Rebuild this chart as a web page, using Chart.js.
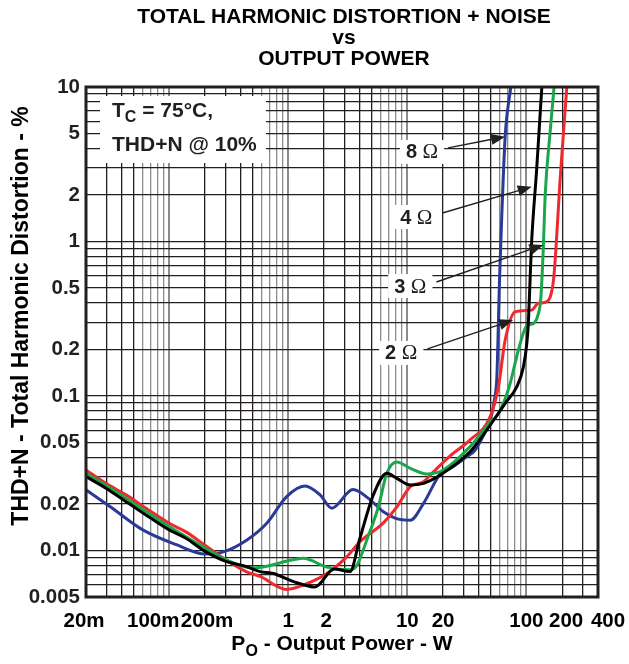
<!DOCTYPE html>
<html>
<head>
<meta charset="utf-8">
<script src="https://cdn.jsdelivr.net/npm/chart.js@4.4.1/dist/chart.umd.min.js"></script>
<style>
  html, body { margin: 0; padding: 0; background: #fff; }
</style>
</head>
<body>
<canvas id="theChart" width="629" height="664"></canvas>
<script>
const FONT = '"Liberation Sans", Arial, Helvetica, sans-serif'

const titleLines = ["TOTAL HARMONIC DISTORTION + NOISE", "vs", "OUTPUT POWER"]
const yTitle = "THD+N - Total Harmonic Distortion - %"
const xTitle = ["P", "O", " - Output Power - W"]
const noteLines = [["T", "C", " = 75°C,"], ["THD+N @ 10%", "", ""]]

const xMin = 0.02, xMax = 400
const yMin = 0.005, yMax = 10
const xTickValues = [0.02, 0.1, 0.2, 1, 2, 10, 20, 100, 200, 400]
const xTickText = ["20m", "100m", "200m", "1", "2", "10", "20", "100", "200", "400"]
const yTickValues = [0.005, 0.01, 0.02, 0.05, 0.1, 0.2, 0.5, 1, 2, 5, 10]

// 8 ohm (blue)
const p8 = [0.02, 0.032, 0.06, 0.115, 0.2, 0.285, 0.45, 0.66, 0.97, 1.38, 1.85, 2.32, 3.5, 4.9, 6.3, 7.9, 10.6, 13.7, 19.5, 22.9, 31.6, 37.2, 47, 51, 54, 56.5, 57.5, 59.5, 62.3, 66.4, 74]
const thd8 = [0.0247, 0.0192, 0.0136, 0.0109, 0.0095, 0.0098, 0.0117, 0.015, 0.0223, 0.0261, 0.0229, 0.0188, 0.0248, 0.0212, 0.0178, 0.0162, 0.0157, 0.0202, 0.0324, 0.034, 0.0405, 0.0447, 0.063, 0.075, 0.095, 0.13, 0.2, 0.56, 1.52, 4.77, 10]

// 4 ohm (black)
const p4 = [0.02, 0.0294, 0.0434, 0.0638, 0.1, 0.138, 0.204, 0.3, 0.442, 0.58, 0.75, 1.04, 1.34, 1.68, 2.43, 3.3, 4.0, 5.19, 6.73, 8.16, 10.6, 13.7, 18.9, 33.7, 46.6, 66.4, 83.2, 94.6, 101, 104, 108, 111, 122, 135]
const thd4 = [0.0301, 0.0253, 0.0207, 0.017, 0.0136, 0.012, 0.0098, 0.0085, 0.0079, 0.0073, 0.0071, 0.0064, 0.006, 0.0058, 0.0076, 0.0073, 0.012, 0.0229, 0.0316, 0.0293, 0.0265, 0.0272, 0.0308, 0.0436, 0.0603, 0.0897, 0.115, 0.155, 0.22, 0.296, 0.62, 1.02, 2.9, 10]

// 3 ohm (green)
const p3 = [0.02, 0.0434, 0.1, 0.204, 0.3, 0.5, 1.1, 1.34, 2.11, 3.3, 3.77, 4.57, 5.72, 6.73, 8.16, 10.6, 14.6, 20.1, 33.7, 50, 57, 66, 73, 86, 101, 115, 126, 132, 139, 144, 158, 171]
const thd3 = [0.0316, 0.0218, 0.0143, 0.0103, 0.0087, 0.0077, 0.0087, 0.0089, 0.0078, 0.0075, 0.008, 0.0117, 0.0192, 0.0316, 0.0374, 0.034, 0.0313, 0.0332, 0.047, 0.068, 0.075, 0.095, 0.12, 0.2, 0.285, 0.295, 0.34, 0.42, 0.92, 2, 5, 10]

// 2 ohm (red)
const p2 = [0.02, 0.0294, 0.0434, 0.0638, 0.1, 0.138, 0.204, 0.3, 0.442, 0.58, 0.97, 1.43, 2.11, 3.1, 4.0, 6.3, 8.2, 10.6, 13.7, 15.6, 22.9, 33.7, 49.7, 58.3, 66.4, 80.6, 111, 126, 149, 169, 177, 192, 219]
const thd2 = [0.0332, 0.0272, 0.0229, 0.0188, 0.015, 0.0132, 0.0107, 0.0087, 0.0073, 0.0068, 0.0056, 0.0061, 0.0071, 0.0091, 0.0114, 0.0151, 0.0192, 0.0259, 0.0279, 0.0308, 0.041, 0.052, 0.0735, 0.115, 0.23, 0.351, 0.36, 0.398, 0.408, 0.56, 0.88, 2.5, 10]

// curve callouts: number, label centre and arrow tip in data units
const calloutText = ["8", "4", "3", "2"]
const calloutAt = [[13.3, 3.8], [11.9, 1.44], [10.6, 0.515], [8.9, 0.19]]
const calloutTip = [[66.4, 4.77], [111, 2.26], [139, 0.95], [77.5, 0.31]]

function logGrid(min, max) {
  const out = []
  for (let e = Math.floor(Math.log10(min)); e <= Math.ceil(Math.log10(max)); e++) {
    for (let m = 1; m < 10; m++) {
      const v = Number((m * Math.pow(10, e)).toPrecision(3))
      if (v >= min * 0.999 && v <= max * 1.001) out.push(v)
    }
  }
  return out
}
const xGrid = logGrid(xMin, xMax)
const yGrid = logGrid(yMin, yMax)
const near = (a, b) => Math.abs(a - b) <= Math.abs(b) * 1e-6
const mant = v => Math.round(v / Math.pow(10, Math.floor(Math.log10(v) + 1e-9)))

const pts = (xs, ys) => xs.map((x, i) => ({ x: x, y: ys[i] }))
const line = (label, xs, ys, color, w) => ({
  label: label, data: pts(xs, ys), borderColor: color, borderWidth: w,
  pointRadius: 0, fill: false, cubicInterpolationMode: 'monotone'
})

const decor = {
  id: 'decor',
  afterDraw(chart) {
    const c = chart.ctx, a = chart.chartArea
    const sx = chart.scales.x, sy = chart.scales.y
    const cx = (a.left + a.right) / 2
    c.save()

    // frame
    c.strokeStyle = '#231f20'
    c.lineWidth = 3
    c.strokeRect(a.left, a.top, a.right - a.left, a.bottom - a.top)

    // title
    c.fillStyle = '#000'
    c.textAlign = 'center'
    c.textBaseline = 'middle'
    c.font = 'bold 21px ' + FONT
    titleLines.forEach((t, i) => c.fillText(t, cx + 2, 17 + i * 21))

    // x tick labels
    const nudge = { "20m": -2, "100m": -16, "200m": 2, "2": 2, "200": 4, "400": 10 }
    c.font = 'bold 20.5px ' + FONT
    xTickValues.forEach((v, i) => {
      const t = xTickText[i]
      c.fillText(t, sx.getPixelForValue(v) + (nudge[t] || 0), 621)
    })

    // x title with subscript
    c.textAlign = 'left'
    c.font = 'bold 21px ' + FONT
    const w0 = c.measureText(xTitle[0]).width
    c.font = 'bold 16px ' + FONT
    const w1 = c.measureText(xTitle[1]).width
    c.font = 'bold 21px ' + FONT
    const w2 = c.measureText(xTitle[2]).width
    let x0 = cx - (w0 + w1 + w2) / 2
    c.fillText(xTitle[0], x0, 644)
    c.font = 'bold 16px ' + FONT
    c.fillText(xTitle[1], x0 + w0, 652)
    c.font = 'bold 21px ' + FONT
    c.fillText(xTitle[2], x0 + w0 + w1, 644)

    // y title
    c.save()
    c.translate(22, 316)
    c.rotate(-Math.PI / 2)
    c.textAlign = 'center'
    c.font = 'bold 23px ' + FONT
    c.fillText(yTitle, 0, 0)
    c.restore()

    // condition note
    c.fillStyle = '#fff'
    c.fillRect(a.left + 14, a.top + 9, 166, 67)
    c.fillStyle = '#231f20'
    c.textAlign = 'left'
    noteLines.forEach((ln, i) => {
      const y = a.top + 24 + i * 34
      let x = a.left + 26
      c.font = 'bold 21px ' + FONT
      c.fillText(ln[0], x, y)
      x += c.measureText(ln[0]).width
      if (ln[1]) {
        c.font = 'bold 16px ' + FONT
        c.fillText(ln[1], x, y + 7)
        x += c.measureText(ln[1]).width
      }
      c.font = 'bold 21px ' + FONT
      c.fillText(ln[2], x, y)
    })

    // callouts
    calloutText.forEach((n, i) => {
      const px = sx.getPixelForValue(calloutAt[i][0])
      const py = sy.getPixelForValue(calloutAt[i][1])
      c.font = 'bold 20px ' + FONT
      const wn = c.measureText(n + ' ').width
      c.font = '21px "Liberation Serif", "Times New Roman", serif'
      const wo = c.measureText('Ω').width
      const left = px - (wn + wo) / 2
      c.fillStyle = '#fff'
      c.fillRect(left - 6, py - 12, wn + wo + 12, 24)
      c.fillStyle = '#231f20'
      c.font = 'bold 20px ' + FONT
      c.fillText(n, left, py + 1)
      c.font = '21px "Liberation Serif", "Times New Roman", serif'
      c.fillText('Ω', left + wn, py + 1)

      const tx = left + wn + wo + 10, ty = py - 4
      const hx = sx.getPixelForValue(calloutTip[i][0])
      const hy = sy.getPixelForValue(calloutTip[i][1])
      const ang = Math.atan2(hy - ty, hx - tx)
      c.strokeStyle = '#231f20'
      c.lineWidth = 1.4
      c.beginPath()
      c.moveTo(tx, ty)
      c.lineTo(hx - 12 * Math.cos(ang), hy - 12 * Math.sin(ang))
      c.stroke()
      c.beginPath()
      c.moveTo(hx, hy)
      c.lineTo(hx - 14 * Math.cos(ang) + 5.5 * Math.sin(ang), hy - 14 * Math.sin(ang) - 5.5 * Math.cos(ang))
      c.lineTo(hx - 14 * Math.cos(ang) - 5.5 * Math.sin(ang), hy - 14 * Math.sin(ang) + 5.5 * Math.cos(ang))
      c.closePath()
      c.fill()
    })
    c.restore()
  }
}

new Chart(document.getElementById('theChart'), {
  type: 'line',
  data: {
    datasets: [
      line('4 Ω', p4, thd4, '#000000', 3),
      line('3 Ω', p3, thd3, '#1aa64b', 3),
      line('2 Ω', p2, thd2, '#ee2a2e', 3),
      line('8 Ω', p8, thd8, '#2b3a96', 3)
    ]
  },
  options: {
    responsive: false,
    animation: false,
    layout: { padding: { top: 87, right: 31, bottom: 0, left: 0 } },
    plugins: { legend: { display: false }, tooltip: { enabled: false } },
    scales: {
      x: {
        type: 'logarithmic', min: xMin, max: xMax,
        afterBuildTicks: s => { s.ticks = xGrid.map(v => ({ value: v })) },
        afterFit: s => { s.height = 67 },
        ticks: { display: false, autoSkip: false },
        border: { display: false },
        grid: {
          drawTicks: false,
          color: ctx => { const m = mant(ctx.tick.value); return (m === 1 || m >= 6) ? '#8c8c8c' : '#231f20' },
          lineWidth: ctx => mant(ctx.tick.value) === 1 ? 2 : 1.3
        }
      },
      y: {
        type: 'logarithmic', min: yMin, max: yMax,
        afterBuildTicks: s => { s.ticks = yGrid.map(v => ({ value: v })) },
        afterFit: s => { s.width = 86 },
        border: { display: false },
        ticks: {
          autoSkip: false, padding: 6, color: '#231f20',
          font: { family: FONT, size: 20.5, weight: 'bold' },
          callback: v => yTickValues.some(t => near(v, t)) ? String(v) : ''
        },
        grid: { drawTicks: false, color: '#231f20', lineWidth: 1.3 }
      }
    }
  },
  plugins: [decor]
})
</script>
</body>
</html>
